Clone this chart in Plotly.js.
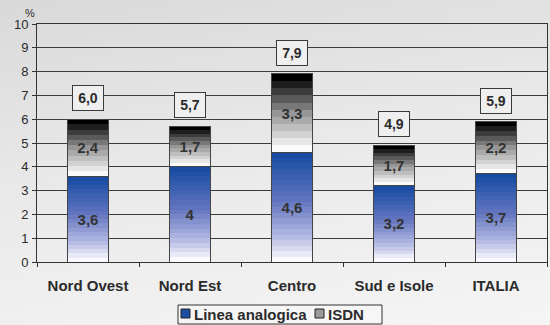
<!DOCTYPE html>
<html>
<head>
<meta charset="utf-8">
<script src="https://cdn.plot.ly/plotly-3.0.1.min.js"></script>
<style>
  html, body { margin: 0; padding: 0; }
  body { width: 550px; height: 325px; background: linear-gradient(170deg, #d9d9d9 0%, #e9e9e9 45%, #f5f5f5 100%); }
  #chart { width: 550px; height: 325px; }
</style>
</head>
<body>
<div id="chart"></div>
<script>
// Regions and percentage values per access type
const regions = ['Nord Ovest', 'Nord Est', 'Centro', 'Sud e Isole', 'ITALIA'];
const seriesNames = ['Linea analogica', 'ISDN'];
const lineaAnalogica = [3.6, 4, 4.6, 3.2, 3.7];
const isdn = [2.4, 1.7, 3.3, 1.7, 2.2];
const yTicks = [0, 1, 2, 3, 4, 5, 6, 7, 8, 9, 10];

const fmt = v => String(v).replace('.', ',');
const totals = regions.map((_, i) => lineaAnalogica[i] + isdn[i]);

const FONT = "'Liberation Sans', Arial, sans-serif";
const INK = '#2b2b2b';
const BLUE = '#1b4fa3';
const GRAY = '#9a9a9a';

// Figure geometry
const W = 550, H = 325;
const M = { l: 37, r: 3, t: 24, b: 63 };
const px2x = px => (px - M.l) / (W - M.l - M.r);
const px2y = py => (H - M.b - py) / (H - M.t - M.b);

const barCommon = {
  type: 'bar',
  width: 0.4,
  textposition: 'inside',
  insidetextanchor: 'middle',
  constraintext: 'none',
  textangle: 0,
  insidetextfont: { family: FONT, size: 15, color: '#333333', weight: 'bold' },
  hoverinfo: 'skip',
  showlegend: false
};

const traces = [
  Object.assign({}, barCommon, {
    name: seriesNames[0],
    x: regions,
    y: lineaAnalogica,
    text: lineaAnalogica.map(fmt),
    marker: { color: BLUE, line: { color: '#444444', width: 1 } }
  }),
  Object.assign({}, barCommon, {
    name: seriesNames[1],
    x: regions,
    y: isdn,
    text: isdn.map(fmt),
    marker: { color: GRAY, line: { color: '#444444', width: 1 } }
  })
];

// Boxed totals above each stack
const annotations = regions.map((r, i) => ({
  x: r, y: totals[i], xref: 'x', yref: 'y',
  text: totals[i].toFixed(1).replace('.', ','),
  showarrow: false, yanchor: 'bottom', yshift: 8,
  width: 30, height: 24, borderpad: 0,
  font: { family: FONT, size: 14, color: INK, weight: 'bold' },
  bgcolor: '#efefef', bordercolor: '#3a3a3a', borderwidth: 1
}));
annotations.push({
  x: 0, xref: 'paper', xanchor: 'right', xshift: 0,
  y: 10, yref: 'y', yanchor: 'bottom', yshift: 3,
  text: '%', showarrow: false,
  font: { family: FONT, size: 11, color: INK }
});

// Legend: framed box with two swatches and labels
const shapes = [
  { type: 'rect', xref: 'paper', yref: 'paper', layer: 'above',
    x0: px2x(178), x1: px2x(382), y0: px2y(305), y1: px2y(324),
    fillcolor: '#f6f6f6', line: { color: '#333333', width: 1 } },
  { type: 'rect', xref: 'paper', yref: 'paper', layer: 'above',
    x0: px2x(181), x1: px2x(190), y0: px2y(309), y1: px2y(318),
    fillcolor: BLUE, line: { color: '#222222', width: 1 } },
  { type: 'rect', xref: 'paper', yref: 'paper', layer: 'above',
    x0: px2x(315), x1: px2x(324), y0: px2y(309), y1: px2y(318),
    fillcolor: GRAY, line: { color: '#222222', width: 1 } }
];
[[192, seriesNames[0]], [326, seriesNames[1]]].forEach(([px, label]) => {
  annotations.push({
    xref: 'paper', yref: 'paper', x: px2x(px), y: px2y(314),
    xanchor: 'left', yanchor: 'middle', showarrow: false, text: label,
    font: { family: FONT, size: 15, color: INK, weight: 'bold' }
  });
});

const layout = {
  width: W, height: H,
  margin: M,
  paper_bgcolor: 'rgba(0,0,0,0)',
  plot_bgcolor: 'rgba(0,0,0,0)',
  barmode: 'stack',
  showlegend: false,
  xaxis: {
    type: 'category',
    tickson: 'boundaries', ticks: 'outside', ticklen: 4, tickcolor: '#333333',
    showline: true, linecolor: '#333333', linewidth: 1, mirror: true,
    showgrid: false, zeroline: false,
    ticklabelstandoff: 10,
    tickfont: { family: FONT, size: 15, color: INK, weight: 'bold' }
  },
  yaxis: {
    range: [0, 10], tickvals: yTicks, ticktext: yTicks.map(String),
    ticks: 'outside', ticklen: 4, tickcolor: '#333333',
    showline: true, linecolor: '#333333', linewidth: 1, mirror: true,
    showgrid: true, gridcolor: '#3c3c3c', gridwidth: 1, zeroline: false,
    ticklabelstandoff: 1,
    tickfont: { family: FONT, size: 13, color: INK }
  },
  shapes: shapes,
  annotations: annotations
};

// Banded vertical gradients for the bar fills
function banded(id, stops, bands) {
  const ns = 'http://www.w3.org/2000/svg';
  const g = document.createElementNS(ns, 'linearGradient');
  g.setAttribute('id', id);
  g.setAttribute('x1', '0'); g.setAttribute('y1', '0');
  g.setAttribute('x2', '0'); g.setAttribute('y2', '1');
  const colorAt = t => {
    for (let k = 0; k < stops.length - 1; k++) {
      const a = stops[k], b = stops[k + 1];
      if (t <= b[0]) {
        const f = (t - a[0]) / (b[0] - a[0]);
        return a[1].map((c, j) => Math.round(c + (b[1][j] - c) * f));
      }
    }
    return stops[stops.length - 1][1];
  };
  for (let i = 0; i < bands; i++) {
    const c = colorAt(i / (bands - 1));
    const col = 'rgb(' + c.join(',') + ')';
    [i / bands, (i + 1) / bands].forEach(off => {
      const s = document.createElementNS(ns, 'stop');
      s.setAttribute('offset', off);
      s.setAttribute('stop-color', col);
      g.appendChild(s);
    });
  }
  return g;
}

Plotly.newPlot('chart', traces, layout, { staticPlot: true }).then(gd => {
  const svg = gd.querySelector('svg.main-svg');
  const ns = 'http://www.w3.org/2000/svg';
  const defs = document.createElementNS(ns, 'defs');
  defs.appendChild(banded('gradBlue', [
    [0, [24, 76, 162]], [0.45, [100, 118, 192]], [0.8, [185, 190, 228]], [1, [250, 250, 254]]
  ], 20));
  defs.appendChild(banded('gradGray', [
    [0, [0, 0, 0]], [0.5, [150, 150, 150]], [1, [250, 250, 250]]
  ], 11));
  svg.insertBefore(defs, svg.firstChild);
  const groups = gd.querySelectorAll('.barlayer .trace.bars');
  const fills = ['url(#gradBlue)', 'url(#gradGray)'];
  groups.forEach((grp, i) => {
    grp.querySelectorAll('.point path').forEach(p => { p.style.fill = fills[i]; });
  });
});
</script>
</body>
</html>
